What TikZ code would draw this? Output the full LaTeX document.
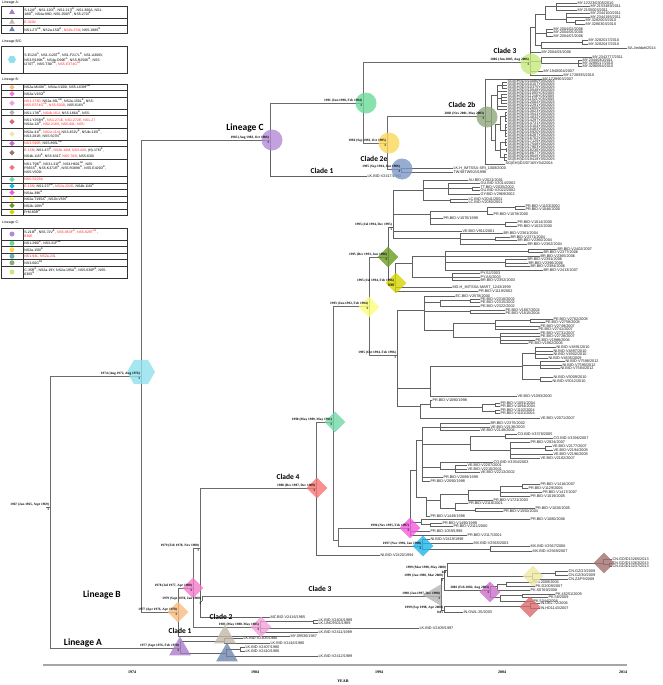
\documentclass[tikz,border=0pt]{standalone}
\usepackage{fontspec}
\setmainfont{Liberation Sans}
\newfontfamily\serfam{Liberation Serif}
\newfontfamily\calfam{Carlito}
\usetikzlibrary{shapes.geometric,calc}
\definecolor{cHex}{HTML}{8FE0EC}
\definecolor{cLC}{HTML}{B48AD6}
\definecolor{cG91}{HTML}{6CD99A}
\definecolor{cY94}{HTML}{FAD75A}
\definecolor{cC2e}{HTML}{7D97C6}
\definecolor{cC2b}{HTML}{8FA77D}
\definecolor{cC3}{HTML}{C6EA7D}
\definecolor{cLB}{HTML}{F9BB80}
\definecolor{cP78}{HTML}{F47ACB}
\definecolor{cP83}{HTML}{F3A0DA}
\definecolor{cC4}{HTML}{F77474}
\definecolor{cG90}{HTML}{70D8A6}
\definecolor{cY93}{HTML}{FDFC7A}
\definecolor{cDG}{HTML}{6A9A22}
\definecolor{cYG}{HTML}{D4D400}
\definecolor{cM96}{HTML}{F25BDD}
\definecolor{cCy}{HTML}{20B5E9}
\definecolor{cC3B}{HTML}{B5B5B5}
\definecolor{cBr}{HTML}{A0706E}
\definecolor{cKh}{HTML}{EDE9A3}
\definecolor{cVi}{HTML}{CC6FCB}
\definecolor{cIN}{HTML}{DB6A6E}
\definecolor{cLA}{HTML}{A97CCB}
\definecolor{cA2}{HTML}{C2B9A8}
\definecolor{cA3}{HTML}{6F86AA}
\definecolor{cC4l}{HTML}{64B4A8}
\definecolor{lgred}{HTML}{FF2020}
\newcommand\lff{\fontsize{3.8}{4}\selectfont}
\newcommand\dlf{\serfam\bfseries\fontsize{3.4}{4}\selectfont}
\newcommand\lgf{\fontsize{3.5}{4.2}\selectfont}
\newcommand\clf{\calfam\bfseries\fontsize{7.5}{8}\selectfont}
\newcommand\lnf{\calfam\bfseries\fontsize{9.5}{10}\selectfont}
\newcommand\rd[1]{\textcolor{lgred}{#1}}
\newcommand\su[1]{\textsuperscript{#1}}
\tikzset{
 br/.style={draw=black!62, line width=0.45pt},
 bb/.style={draw=black!58, line width=0.85pt},
 leaf/.style={anchor=west, inner sep=0.35pt, font=\lff, text=black!90},
 dl/.style={anchor=south east, inner sep=0pt, font=\dlf},
 sp/.style={anchor=north east, inner sep=0pt, font=\dlf},
 cl/.style={font=\clf, inner sep=0pt},
 ln/.style={font=\lnf, inner sep=0pt},
 mk/.style={draw=none, fill opacity=0.8, inner sep=0pt},
 mcirc/.style={mk, circle, minimum size=21pt},
 mdia/.style={mk, diamond, minimum size=21pt},
 mtri/.style={mk, regular polygon, regular polygon sides=3, minimum size=25pt},
 mhex/.style={mk, regular polygon, regular polygon sides=6, minimum size=28pt},
 lgl/.style={draw=black!80, line width=0.5pt},
 lgt/.style={anchor=west, align=left, inner sep=0pt, font=\lgf},
 lgtri/.style={regular polygon, regular polygon sides=3, minimum size=6.5pt, inner sep=0pt},
 lgdia/.style={diamond, minimum size=5.5pt, inner sep=0pt},
 lgcirc/.style={circle, minimum size=5pt, inner sep=0pt},
 lghex/.style={regular polygon, regular polygon sides=6, minimum size=8pt, inner sep=0pt},
 lgh/.style={anchor=west, inner sep=0pt, font=\lgf},
 axline/.style={draw=black!35, line width=1.3pt},
 axl/.style={font=\serfam\bfseries\fontsize{4}{5}\selectfont, inner sep=0pt},
}
\newcounter{lfc}
\newcommand\mylf[4]{\stepcounter{lfc}\node[leaf] (lf\arabic{lfc}) at (#2,#3) {#4};\draw[br] (lf\arabic{lfc}.west) -| (#1);}
\newcommand\mynd[5][br]{\coordinate (#2) at (#3,#4);\draw[#1] (#2) -| (#5);}
\newcommand\mydt[3]{\node[dl] at ($(#1)+(-0.8,-0.6)$) {#2};\node[sp] at ($(#1)+(-0.8,0.6)$) {#3};}
\newcommand\sg[3]{\mylf{#1}{507}{#2}{SG(EHI)D3/#3Y05/2005}}
\newcommand\lgrow[5]{\draw[lgl] (1,#2) -- (127,#2);\node[#4,fill=#3] at (12,{(#1+#2)/2}) {};\node[lgt] at (24.2,{(#1+#2)/2}) {#5};}

\begin{document}
\begin{tikzpicture}[x=1pt,y=-1pt]
\useasboundingbox (0,0) rectangle (662,685);

% ---------------- backbone ----------------
\coordinate (R0) at (46,507);
\coordinate (R) at (50,507);
\draw[bb] (R0) -- (R);
\mynd[bb]{H}{141}{376}{R}
\mynd[bb]{LA}{180}{648}{R}
\mynd[bb]{LC}{270}{140}{H}
\mynd[bb]{LB}{178}{612}{H}

% ---------------- Lineage C ----------------
\mynd[bb]{G91}{363}{103}{LC}
\mylf{LC}{367}{176}{LK.BID-V2417/1992}
\mynd[bb]{C3}{530}{62}{G91}
\mynd[bb]{Y94}{387}{143}{G91}
\mynd[bb]{C2b}{485}{116}{Y94}
\mynd[bb]{C2e}{401}{169}{Y94}
\mylf{C2e}{453}{168}{LK.H\_IMTSSA-SRI\_1008/2000}
\mylf{C2e}{453}{172}{TW.98TW503/1998}

% Clade 3
\mynd{Ca}{535}{27}{C3}
\mynd{Cc}{545}{14}{Ca}
\mynd{Cf}{556}{6}{Cc}
\mylf{Cf}{577}{3}{MY.12223/0305/2010}
\mylf{Cf}{590}{6.5}{MY.2153489/2011}
\mylf{Cf}{577}{10}{MY.2155003/2011}
\mynd{Cg}{566}{19}{Cc}
\mylf{Cg}{590}{13.5}{MY.2344100/2011}
\mylf{Cg}{590}{17}{MY.2344195/2011}
\mynd{Cg2}{575}{22}{Cg}
\mylf{Cg2}{585}{20.5}{MY.3282003/2010}
\mylf{Cg2}{585}{24}{MY.3280303/2010}
\mynd{Cd}{546}{33}{Ca}
\mylf{Cd}{553}{29}{MY.2004/02/2006}
\mylf{Cd}{553}{32.5}{MY.2004/05/2006}
\mylf{Cd}{553}{36}{MY.2004/07/2006}
\mynd{Ce}{541}{45}{Ca}
\mynd{Ch}{582}{42}{Ce}
\mylf{Ch}{588}{40}{MY.3282017/2010}
\mylf{Ch}{588}{44}{MY.3282047/2010}
\mylf{Ce}{627}{48}{SA.Jeddah/2014}
\mylf{C3}{541}{52}{MY.2004/03/2006}
\mynd{Cb}{541}{61}{C3}
\mylf{Cb}{592}{57}{MY.2343777/2011}
\mynd{Ci}{578}{63}{Cb}
\mylf{Ci}{582}{60}{MY.2344030/2011}
\mylf{Ci}{582}{63}{MY.3280017/2010}
\mylf{Ci}{582}{66}{MY.3280094/2010}
\mylf{C3}{543}{71}{MY.1940004/2007}
\mylf{C3}{563}{75}{MY.1728935/2010}

% Clade 2b
\mylf{C2b}{542}{79}{MY.1728903/2007}
\mynd{S1}{491}{121}{C2b}
\mylf{C2b}{505}{164}{SG(EHI)D3/07165Y04/2004}
\mynd{S2}{497}{95}{S1}
\mynd{S3}{495}{140}{S1}
\mynd{S2a}{502}{85}{S2}
\sg{S2a}{82}{10080}
\sg{S2a}{85}{10157}
\sg{S2a}{88}{10375}
\sg{S2}{91}{10548}
\mynd{S2b}{501}{98.5}{S2}
\sg{S2b}{94}{11093}
\sg{S2b}{97}{11248}
\sg{S2b}{100}{11521}
\sg{S2b}{103}{12004}
\sg{S2}{106}{12291}
\sg{S2}{109}{12650}
\mynd{S3a}{500}{124}{S3}
\mynd{S3c}{505}{116.5}{S3a}
\sg{S3c}{112}{13023}
\sg{S3c}{115}{13541}
\sg{S3c}{118}{14032}
\sg{S3c}{121}{14297}
\mynd{S3d}{505}{130}{S3a}
\sg{S3d}{124}{14731}
\sg{S3d}{127}{15104}
\sg{S3d}{130}{15483}
\sg{S3d}{133}{15920}
\sg{S3d}{136}{16287}
\mynd{S3b}{500}{150}{S3}
\mynd{S3e}{505}{142}{S3b}
\sg{S3e}{139}{16702}
\sg{S3e}{142}{17129}
\sg{S3e}{145}{17548}
\mynd{S3f}{506}{149.5}{S3b}
\sg{S3f}{148}{17903}
\sg{S3f}{151}{18236}
\mynd{S3g}{504}{157}{S3b}
\sg{S3g}{154}{18677}
\sg{S3g}{157}{19045}
\sg{S3g}{160}{19418}

% ---------------- Lineage B ----------------
\mynd[bb]{P78}{193}{588}{LB}
\mylf{LB}{290}{636}{MY.09536/1987}
\mynd[bb]{N79a}{200}{548}{P78}
\mynd[bb]{P83}{260}{627}{P78}
\mynd[bb]{C4}{316}{488}{N79a}
\mynd[bb]{N79b}{202}{601}{N79a}
\mylf{N79a}{270}{617}{MZ.BID-V2416/1985}
\mynd[bb]{C3B}{441}{596}{N79b}

\mynd{P83a}{313}{621.5}{P83}
\mylf{P83a}{318}{620}{LK.BID-V2404/1989}
\mylf{P83a}{318}{623.5}{LK.UNC9501/1989}
\mylf{P83}{419}{628}{LK.BID-V2409/1997}
\mylf{P83}{318}{632}{LK.BID-V2411/1989}

% Lineage B clade 3
\mynd{X1}{444}{578}{C3B}
\mynd{X2}{444}{610}{C3B}
\mynd{X0}{447}{570}{X1}
\mynd{Br}{603}{563}{X0}
\mynd{Kh}{532}{576}{X0}
\mynd{P02}{490}{590}{X1}
\mynd{RIN}{530}{606}{X2}
\mylf{X2}{463}{612}{IN.GWL-25/2003}
\mylf{Br}{612}{559.5}{CN.GD/D13265/2013}
\mynd{Bra}{609}{564.5}{Br}
\mylf{Bra}{612}{563}{CN.GD/D13263/2013}
\mylf{Bra}{612}{566.5}{CN.GD/D13237/2013}
\mynd{Kha}{555}{573}{Kh}
\mylf{Kha}{568}{571}{CN.GZ/23/2009}
\mylf{Kha}{568}{575}{CN.GZ/30/2009}
\mylf{Kh}{568}{579}{CN.ZJ/F9/2009}
\mylf{RIN}{540}{603.5}{IN.DEL-72/2006}
\mylf{RIN}{540}{608}{IN.HD1143/2007}
\mynd{Pa}{497}{586}{P02}
\mynd{Pa2}{506}{584}{Pa}
\mylf{Pa2}{532}{582}{PK.L2009/2006}
\mylf{Pa2}{535}{586}{PK.D2009/2007}
\mylf{Pa}{530}{590}{PK.S0769/2008}
\mynd{Pb}{500}{597}{P02}
\mynd{Pc}{522}{595.5}{Pb}
\mylf{Pc}{555}{594}{PK.45251/2009}
\mylf{Pc}{548}{597.5}{PK.58/2009}
\mylf{Pb}{533}{601}{PK.5344/2008}

% Lineage A
\mynd{A2}{224}{641}{LA}
\mynd{A3}{226}{653}{LA}
\mylf{A2}{243}{638}{LK.BID-V2405/1980}
\mylf{A2}{270}{643}{LK.BID-V2416/1980}
\mynd{A3a}{240}{649}{A3}
\mylf{A3a}{245}{647}{LK.BID-V2407/1980}
\mylf{A3a}{245}{651}{LK.BID-V2410/1980}
\mylf{A3}{318}{656}{LK.BID-V2412/1989}

% ---------------- Clade 4 ----------------
\mynd[bb]{G90}{333}{422}{C4}
\mylf{C4}{380}{555}{NI.BID-V2420/1994}
\mynd[bb]{Y93}{369}{306}{G90}
\mynd[bb]{N96p}{338}{540}{G90}
\mynd[bb]{M96}{410}{528}{N96p}
\mynd[bb]{Cy97}{422}{546}{N96p}

\mylf{Cy97}{430}{539}{NI.BID-V2419/1998}
\mylf{Cy97}{473}{543}{MX.BID-V2565/2003}
\mynd{Mx2}{490}{549}{Cy97}
\mylf{Mx2}{530}{546.5}{MX.BID-V2567/2006}
\mylf{Mx2}{532}{551}{MX.BID-V2569/2007}

\mynd{Car}{416}{470}{M96}
\mynd{Pr1}{421}{522}{M96}
\mylf{Pr1}{530}{519}{PR.BID-V1080/2006}
\mynd{Pr2}{430}{524.5}{Pr1}
\mylf{Pr2}{442}{523}{PR.BID-V1490/1999}
\mylf{Pr2}{453}{526.5}{PR.BID-V2111/2000}
\mylf{M96}{430}{531}{PR.BID-1059/1998}
\mylf{M96}{467}{535}{PR.BID-V2117/2001}

\mynd{Ca1}{422}{440}{Car}
\mynd{Ca2}{426}{497}{Car}
\mynd{Cv1}{440}{427}{Ca1}
\mylf{Cv1}{490}{423.5}{BR.BID-V2375/2002}
\mylf{Cv1}{490}{427}{VE.BID-V2136/2003}
\mylf{Cv1}{480}{430.5}{VE.BID-V2148/2004}
\mynd{Cv2}{470}{444}{Ca1}
\mynd{Cv2a}{505}{436}{Cv2}
\mylf{Cv2a}{517}{434}{CO.BID-V3378/2005}
\mylf{Cv2a}{553}{438}{CO.BID-V3396/2007}
\mynd{Cv2b}{510}{450}{Cv2}
\mylf{Cv2b}{530}{442}{PR.BID-V2924/2007}
\mynd{Cv2c}{545}{448}{Cv2b}
\mylf{Cv2c}{552}{446}{VE.BID-V2177/2007}
\mylf{Cv2c}{553}{450}{VE.BID-V2194/2008}
\mylf{Cv2b}{553}{454}{VE.BID-V2196/2008}
\mylf{Cv2b}{540}{458}{VE.BID-V2182/2007}
\mynd{Cv3}{440}{467}{Ca1}
\mylf{Cv3}{493}{462}{CO.BID-V3394/2003}
\mynd{Cv3a}{455}{469}{Cv3}
\mylf{Cv3a}{467}{465.5}{VE.BID-V2207/2001}
\mylf{Cv3a}{467}{469}{VE.BID-V2210/2001}
\mylf{Cv3a}{480}{472.5}{VE.BID-V2213/2002}
\mylf{Ca1}{443}{477}{PR.BID-V2089/1999}
\mylf{Ca1}{430}{481}{PR.BID-V2090/1998}

\mynd{Pc1}{440}{500}{Ca2}
\mylf{Ca2}{430}{516}{PR.BID-V1449/1998}
\mynd{Pc2}{468}{494}{Pc1}
\mynd{Pc4}{500}{490}{Pc2}
\mynd{Pc5}{522}{486}{Pc4}
\mylf{Pc5}{540}{484}{PR.BID-V1416/2007}
\mylf{Pc5}{528}{488}{PR.BID-V1129/2006}
\mylf{Pc4}{542}{492}{PR.BID-V1417/2007}
\mylf{Pc4}{530}{496}{PR.BID-V1019/2005}
\mylf{Pc2}{493}{500}{PR.BID-V1721/2003}
\mynd{Pc3}{455}{508}{Pc1}
\mylf{Pc3}{468}{503.5}{PR.BID-V2118/2001}
\mynd{Pc6}{475}{510}{Pc3}
\mylf{Pc6}{535}{508}{PR.BID-V1026/2005}
\mylf{Pc6}{503}{511.5}{PR.BID-V1550/2004}

% 1993 subtree
\mynd[bb]{DG95}{388}{257}{Y93}
\mynd[bb]{N95c}{397}{355}{Y93}
\mynd{N95a}{393}{227}{DG95}
\mynd{YG95}{395}{283}{DG95}

\mynd{Au}{423}{190}{N95a}
\mylf{Au}{468}{180}{AU.BID-V2021/2001}
\mynd{Au2}{448}{188}{Au}
\mylf{Au2}{480}{183.5}{GU.BID-V2014/2002}
\mynd{Au3}{472}{188.5}{Au2}
\mylf{Au3}{480}{187}{TT.BID-V2035/2002}
\mylf{Au3}{480}{190.5}{GU.BID-V2022/2002}
\mylf{Au2}{480}{194}{GY.BID-V2969/2002}
\mynd{Au4}{450}{200.5}{Au}
\mylf{Au4}{468}{199}{LC.BID-V2041/2001}
\mylf{Au4}{468}{202.5}{LC.BID-V2050/2001}
\mynd{Pr}{430}{214}{N95a}
\mynd{Pr4}{487}{211}{Pr}
\mynd{Pr4a}{515}{207.5}{Pr4}
\mylf{Pr4a}{525}{206}{PR.BID-V1103/2000}
\mylf{Pr4a}{525}{209.5}{PR.BID-V1046/2000}
\mylf{Pr4}{493}{214}{PR.BID-V1078/2000}
\mylf{Pr}{443}{218}{PR.BID-V1076/1999}
\mynd{Pr5}{505}{224}{Pr}
\mylf{Pr5}{517}{222}{PR.BID-V1014/2000}
\mylf{Pr5}{517}{226}{PR.BID-V1022/2000}
\mylf{N95a}{462}{231}{VE.BID-V911/2001}
\mynd{Bz}{460}{238}{N95a}
\mylf{Bz}{503}{233.5}{BR.BID-V2361/2004}
\mynd{Bz2}{495}{239}{Bz}
\mylf{Bz2}{510}{237}{BR.BID-V2371/2004}
\mylf{Bz2}{517}{240.5}{BR.BID-V2360/2004}
\mylf{Bz}{527}{244}{BR.BID-V2362/2004}

\mynd{Yb1}{412}{263}{YG95}
\mynd{Yb2}{445}{256}{Yb1}
\mynd{Yb5}{528}{251}{Yb2}
\mylf{Yb5}{557}{249}{BR.BID-V2402/2007}
\mylf{Yb5}{543}{252.5}{BR.BID-V2377/2006}
\mylf{Yb2}{540}{256}{BR.BID-V2365/2006}
\mynd{Yb4}{505}{262}{Yb2}
\mylf{Yb4}{527}{259.5}{BR.BID-V2391/2006}
\mylf{Yb4}{528}{263}{BR.BID-V2396/2006}
\mylf{Yb4}{530}{266.5}{BR.BID-V2384/2006}
\mylf{Yb2}{543}{270}{BR.BID-V2413/2007}
\mynd{Yb3}{452}{277}{Yb1}
\mylf{Yb3}{480}{273.5}{PY.SJ/2003}
\mylf{Yb3}{480}{277}{PY.AS/2003}
\mylf{Yb3}{480}{280.5}{BR.BID-V2352/2003}
\mylf{YG95}{452}{287}{MG.H\_IMTSSA-MART\_1243/1999}
\mylf{YG95}{478}{291}{PR.BID-V1119/2002}

\mynd{E1}{424}{310}{N95c}
\mynd{N1}{430}{388}{N95c}
\mynd{P1}{420}{406}{N95c}
\mylf{E1}{455}{296}{EC.BID-V2578/2000}
\mynd{E2}{440}{302}{E1}
\mynd{Eb}{470}{300.5}{E2}
\mylf{Eb}{480}{299}{PE.BID-V2310/2002}
\mylf{Eb}{480}{302.5}{PE.BID-V2315/2002}
\mylf{E2}{480}{306}{PE.BID-V2322/2002}
\mynd{E4}{470}{311.5}{E1}
\mylf{E4}{505}{310}{PE.BID-V1807/2004}
\mylf{E4}{505}{313.5}{PE.BID-V1815/2004}
\mynd{E3}{453}{330}{E1}
\mynd{E5}{495}{323.5}{E3}
\mynd{Ec}{530}{320.5}{E5}
\mylf{Ec}{553}{319}{PE.BID-V2762/2008}
\mylf{Ec}{545}{322.5}{PE.BID-V2758/2008}
\mylf{E5}{540}{326}{PE.BID-V2749/2007}
\mylf{E5}{538}{329.5}{PE.BID-V2741/2007}
\mynd{E6}{500}{337}{E3}
\mylf{E6}{540}{333}{PE.BID-V2731/2007}
\mylf{E6}{540}{336.5}{PE.BID-V2728/2007}
\mylf{E6}{535}{340}{PE.BID-V1988/2006}
\mylf{E6}{528}{343.5}{PE.BID-V1962/2006}

\mynd{Ni}{522}{366}{N1}
\mylf{N1}{517}{396}{VE.BID-V1093/2000}
\mynd{Nia}{535}{353}{Ni}
\mylf{Nia}{556}{347.5}{NI.BID-V4891/2010}
\mylf{Nia}{553}{351}{NI.BID-V4897/2010}
\mylf{Nia}{553}{354.5}{NI.BID-V4902/2010}
\mylf{Nia}{548}{358}{NI.BID-V4835/2009}
\mynd{Nib}{540}{365}{Ni}
\mylf{Nib}{565}{361.5}{NI.BID-V7598/2012}
\mylf{Nib}{562}{365}{NI.BID-V7590/2012}
\mylf{Nib}{560}{368.5}{NI.BID-V7584/2012}
\mynd{Nic}{540}{379}{Ni}
\mylf{Nic}{553}{377.5}{NI.BID-V5009/2010}
\mylf{Nic}{552}{381}{NI.BID-V5012/2010}

\mynd{P2}{430}{404}{P1}
\mylf{P2}{432}{400}{PR.BID-V1090/1998}
\mynd{P3}{482}{407.5}{P2}
\mynd{P3a}{495}{404.5}{P3}
\mylf{P3a}{500}{403}{PR.BID-V1091/2004}
\mylf{P3a}{500}{406.5}{PR.BID-V1094/2004}
\mynd{P3b}{495}{411.5}{P3}
\mylf{P3b}{500}{410}{PR.BID-V1102/2004}
\mylf{P3b}{500}{413.5}{PR.BID-V1101/2004}
\mylf{P1}{540}{418}{VE.BID-V2071/2007}

% ---------------- markers ----------------
\node[mhex, fill=cHex] (mH) at (141,372) {};
\node[mcirc, fill=cLC] (mLC) at (272,140) {};
\node[mcirc, fill=cG91] (mG91) at (366,103) {};
\node[mcirc, fill=cY94] (mY94) at (389,143) {};
\node[mcirc, fill=cC2e] (mC2e) at (402,169) {};
\node[mcirc, fill=cC2b] (mC2b) at (487,117) {};
\node[mcirc, fill=cC3] (mC3) at (531,64) {};
\node[mdia, fill=cLB] (mLB) at (178,612) {};
\node[mdia, fill=cP78] (mP78) at (193,588) {};
\node[mdia, fill=cP83] (mP83) at (261,627) {};
\node[mdia, fill=cC4] (mC4) at (317,488) {};
\node[mdia, fill=cG90] (mG90) at (335,422) {};
\node[mdia, fill=cY93] (mY93) at (369,307) {};
\node[mdia, fill=cDG] (mDG) at (388,257) {};
\node[mdia, fill=cYG] (mYG) at (396,283) {};
\node[mdia, fill=cM96] (mM96) at (410,528) {};
\node[mdia, fill=cCy] (mCy) at (423,546) {};
\node[mtri, fill=cC3B, shape border rotate=90] (mC3B) at (435,595) {};
\node[mdia, fill=cBr] (mBr) at (604,563) {};
\node[mdia, fill=cKh] (mKh) at (533,576) {};
\node[mdia, fill=cVi] (mVi) at (490,592) {};
\node[mdia, fill=cIN] (mIN) at (530,607) {};
\node[mtri, fill=cLA] (mLA) at (180,649) {};
\node[mtri, fill=cA2] (mA2) at (225,637) {};
\node[mtri, fill=cA3] (mA3) at (227,655) {};

% ---------------- date labels ----------------
\mydt{R}{1967 (Jan 1965, Sept 1969)}{1}
\mydt{H}{1974 (Aug 1972, Aug 1976)}{1}
\mydt{LC}{1985 (Aug 1983, Oct 1986)}{1}
\mydt{G91}{1991 (Jun 1990, Feb 1994)}{1}
\mydt{Y94}{1994 (Sep 1993, Oct 1995)}{1}
\mydt{C2e}{1995 (Sep 1994, Jun 1996)}{1}
\mydt{C2b}{2002 (Nov 2001, May 2003)}{1}
\mydt{C3}{2006 (Jun 2005, Aug 2006)}{1}
\mydt{LB}{1977 (Apr 1976, Apr 1978)}{1}
\mydt{P78}{1978 (Jul 1977, Apr 1980)}{1}
\mydt{N79a}{1979 (Feb 1978, Nov 1980)}{1}
\mydt{N79b}{1979 (Sept 1978, Jan 1980)}{1}
\mydt{P83}{1983 (May 1980, May 1985)}{1}
\mydt{C4}{1988 (Dec 1987, Dec 1989)}{1}
\mydt{G90}{1990 (May 1989, May 1991)}{1}
\mydt{Y93}{1993 (Jun 1992, Feb 1994)}{1}
\mydt{DG95}{1995 (Dec 1993, Jun 1996)}{1}
\mydt{N95a}{1995 (Jul 1994, Dec 1995)}{1}
\mydt{YG95}{1995 (Jul 1994, Feb 1996)}{0.98}
\mydt{N95c}{1995 (Oct 1994, Feb 1996)}{1}
\mydt{M96}{1996 (Nov 1995, Feb 1997)}{1}
\mydt{Cy97}{1997 (Nov 1996, Jan 1998)}{1}
\mydt{C3B}{1998 (Jan 1997, Dec 1998)}{1}
\mydt{X0}{1999 (Mar 1998, May 2000)}{0.4}
\mydt{X1}{1999 (Jan 1998, Mar 2000)}{1}
\mydt{X2}{1999 (Sep 1998, Apr 2000)}{0.85}
\mydt{P02}{2002 (Feb 2002, Aug 2003)}{1}
\mydt{LA}{1977 (Sept 1976, Feb 1978)}{1}

% ---------------- clade labels ----------------
\node[ln] at (245,128) {Lineage C};
\node[ln] at (102,595) {Lineage B};
\node[ln] at (83,643) {Lineage A};
\node[cl] at (322,171) {Clade 1};
\node[cl] at (374,159) {Clade 2e};
\node[cl] at (462,105) {Clade 2b};
\node[cl] at (505,51) {Clade 3};
\node[cl] at (288,477) {Clade 4};
\node[cl] at (320,589) {Clade 3};
\node[cl] at (221,616.5) {Clade 2};
\node[cl] at (180,631) {Clade 1};

% ---------------- axis ----------------
\coordinate (ax0) at (43,665);
\coordinate (ax1) at (627,665);
\draw[axline] (ax0) -- (ax1);
\node[axl] at (132,672) {1974};
\node[axl] at (255,672) {1984};
\node[axl] at (379,672) {1994};
\node[axl] at (502,672) {2004};
\node[axl] at (623,672) {2014};
\node[axl] at (343,681) {YEAR};

% ---------------- legend ----------------
\node[lgh] at (2,3) {Lineage A:};
\draw[lgl] (1,6) rectangle (127,33.3);
\draw[lgl] (23,6) -- (23,33.3);
\lgrow{6}{18.3}{cLA}{lgtri}{S-124I\su{A}, NS1-120I\su{B}, NS1-217I\su{B}, NS1-300A, NS1-\\180I\su{B}, NS4a-99D, NS5-250R\su{B}, NS5-270I\su{B}}
\lgrow{18.3}{25.7}{cA2}{lgtri}{\rd{E-320V}}
\lgrow{25.7}{33.3}{cA3}{lgtri}{NS1-27I\su{AB}, NS2a-150I\su{B}, \rd{NS2b-37M}, NS5-188S\su{B}}

\node[lgh] at (2,42) {Lineage B/C:};
\draw[lgl] (1,46) rectangle (127,73);
\draw[lgl] (23,46) -- (23,73);
\lgrow{46}{73}{cHex}{lghex}{S-E124I\su{A}, NS1-I120T\su{B}, NS1-F217L\su{B}, NS1-A300V,\\NS3-R180K\su{B}, NS4a-D99E\su{A}, NS5-R250K\su{B}, NS5-\\I270T\su{B}, NS5-T30I\su{AB}, \rd{NS5-E374G\su{AB}}}

\node[lgh] at (2,80) {Lineage B:};
\draw[lgl] (1,84) rectangle (127,215.3);
\draw[lgl] (23,84) -- (23,215.3);
\lgrow{84}{90.5}{cLB}{lgdia}{NS2a-M108I\su{A}, NS4a-V100I, NS5-L639F\su{AB}}
\lgrow{90.5}{97}{cP78}{lgdia}{NS2a-V150I\su{B}}
\lgrow{97}{109.2}{cP83}{lgdia}{\rd{NS1-173D}, NS2a-36L\su{AB}, NS2a-150L\su{B}, NS5-\\\rd{NS5-E374G\su{AB}, NS5-500D}, NS5-616V\su{B}}
\lgrow{109.2}{115.7}{cC3B}{lgdia}{NS1-178I\su{B}, \rd{NS4b-161I}, NS5-186A\su{B}, NS5-}
\lgrow{115.7}{127.9}{cIN}{lgdia}{NS1-Y258H\su{B}, \rd{NS1-271E, NS1-272E, NS1-27}\\NS2a-12I\su{B}, \rd{NS2-216S, NS5-60L, NS5-}}
\lgrow{127.9}{140.1}{cKh}{lgdia}{NS2a-41I\su{B}, \rd{NS2a-114I}, NS3-452V\su{B}, NS4b-115I\su{B},\\NS3-281R, NS5-507N\su{B}}
\lgrow{140.1}{146.6}{cVi}{lgdia}{\rd{NS3-590R}, NS5-895L\su{AB}}
\lgrow{146.6}{158.8}{cBr}{lgdia}{\rd{E-158I}, NS1-47I\su{B}, \rd{NS2b-16M, NS3-430}, (H)-176I\su{B},\\NS4b-115I\su{B}, NS5-631T, \rd{NS5-783I}, NS5-630I}
\lgrow{158.8}{176.3}{cC4}{lgdia}{NS1-T93I\su{B}, NS3-L31F\su{B}, NS3-H601\su{AB}, NS5-\\P365S\su{B}, NS5-K371R\su{B}, NS5-R389K\su{B}, NS5-E429D\su{B},\\NS5-V509I}
\lgrow{176.3}{182.8}{cG90}{lgdia}{\rd{NS5-S229A}}
\lgrow{182.8}{189.3}{cCy}{lgdia}{\rd{E-108I}, NS1-27I\su{AB}, \rd{NS2a-202G}, NS4b-116I\su{B}}
\lgrow{189.3}{195.8}{cM96}{lgdia}{NS4a-39K\su{B}}
\lgrow{195.8}{202.3}{cY93}{lgdia}{NS2a-T195A\su{B}, NS2b-V59I\su{B}}
\lgrow{202.3}{208.8}{cDG}{lgdia}{NS2b-109V\su{B}}
\lgrow{208.8}{215.3}{cYG}{lgdia}{PrM-80R\su{B}}

\node[lgh] at (2,223) {Lineage C:};
\draw[lgl] (1,228) rectangle (127,278);
\draw[lgl] (23,228) -- (23,278);
\lgrow{228}{240}{cLC}{lgcirc}{S-219I\su{B}, NS5-72V\su{B}, \rd{NS5-853F\su{B}, NS5-829T\su{AB}},\\\rd{836E}}
\lgrow{240}{246.5}{cG91}{lgcirc}{NS1-290I\su{B}, NS3-31F\su{AB}}
\lgrow{246.5}{253}{cY94}{lgcirc}{NS2a-150I\su{B}}
\lgrow{253}{259.5}{cC4l}{lgcirc}{\rd{NS1-94L, NS2a-23L}}
\lgrow{259.5}{266}{cC2b}{lgcirc}{NS3-60G\su{AB}}
\lgrow{266}{278}{cC3}{lgcirc}{C-35R\su{B}, NS2a-19Y, NS2a-195A\su{B}, NS5-630P\su{B}, NS5-\\630S\su{B}}
\end{tikzpicture}
\end{document}
